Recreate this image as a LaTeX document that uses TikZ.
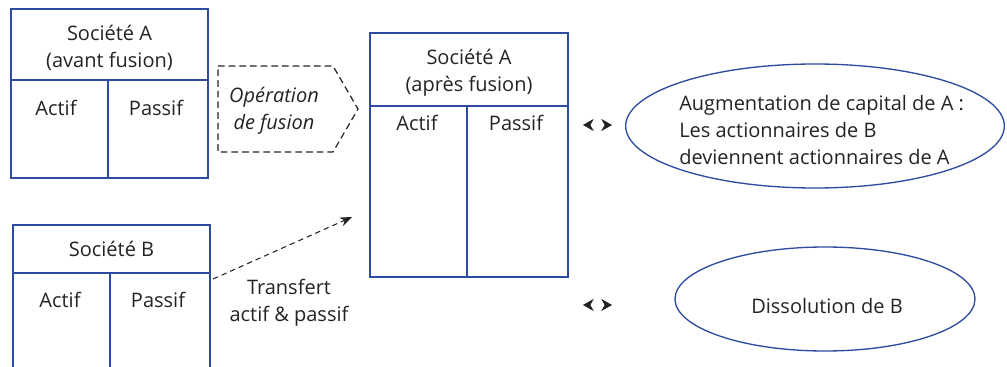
\documentclass[tikz,border=0pt]{standalone}
\usepackage{fontspec}
\setmainfont{Open Sans}
\usetikzlibrary{arrows.meta,shapes.geometric}
\definecolor{bleucadre}{RGB}{45,75,160}
\definecolor{gristexte}{RGB}{35,35,35}
\tikzset{
  cadre/.style={draw=bleucadre,line width=1pt},
  txt/.style={text=gristexte,font=\fontsize{15}{20.5}\selectfont,align=center,inner sep=0pt},
  pointes/.style={{Stealth[length=8pt,width=9pt,inset=2.5pt]}-{Stealth[length=8pt,width=9pt,inset=2.5pt]},dash pattern=on 0pt off 60pt,line width=0.4pt,gristexte},
}

\begin{document}
\begin{tikzpicture}[x=0.75pt,y=-0.75pt]
	\clip (0,0) rectangle (1007,367);
	\draw[cadre] (11,9) rectangle (208,178);
	\draw[cadre] (11,80) -- (208,80) (108,80) -- (108,178);
	\node[txt] (avantTitre) at (109.5,48) {Société A\\(avant fusion)};
	\node[txt] (avantActif) at (56,108) {Actif};
	\node[txt] (avantPassif) at (156,108) {Passif};
	\draw[dash pattern=on 5pt off 3pt,gristexte,line width=0.9pt] (218,66) -- (333,66) -- (358,109) -- (333,152) -- (218,152) -- cycle;
	\node[txt,font=\fontsize{15}{20.5}\selectfont\itshape] (operation) at (274,111) {Opération\\de fusion};
	\draw[cadre] (13,225) rectangle (210,380);
	\draw[cadre] (13,273) -- (210,273) (110,273) -- (110,380);
	\node[txt] (bTitre) at (111.5,249) {Société B};
	\node[txt] (bActif) at (60,300) {Actif};
	\node[txt] (bPassif) at (158,300) {Passif};
	\draw[cadre] (370,33) rectangle (568,277);
	\draw[cadre] (370,106) -- (568,106) (467,106) -- (467,277);
	\node[txt] (apresTitre) at (469,73) {Société A\\(après fusion)};
	\node[txt] (apresActif) at (417,123) {Actif};
	\node[txt] (apresPassif) at (516,123) {Passif};
	\coordinate (departB) at (213,279);
	\coordinate (arriveeA) at (352,217);
	\draw[dash pattern=on 4pt off 3pt,gristexte,line width=0.8pt,-{Stealth[length=9pt,width=7pt]}] (departB) -- (arriveeA);
	\node[txt] (transfert) at (289,303) {Transfert\\actif \& passif};
	\node[ellipse,cadre,minimum width=284pt,minimum height=93pt,inner sep=0pt] (augmentation) at (815,126) {};
	\node[txt,align=left,anchor=west] (augmTexte) at (679,130) {Augmentation de capital de A :\\Les actionnaires de B\\deviennent actionnaires de A};
	\node[ellipse,cadre,minimum width=225pt,minimum height=78pt,inner sep=0pt] (dissolution) at (825,299) {};
	\node[txt] (dissTexte) at (827,306) {Dissolution de B};
	\coordinate (fleche1G) at (583,125);
	\coordinate (fleche1D) at (612,125);
	\coordinate (fleche2G) at (583,305);
	\coordinate (fleche2D) at (612,305);
	\draw[pointes] (fleche1G) -- (fleche1D);
	\draw[pointes] (fleche2G) -- (fleche2D);
\end{tikzpicture}
\end{document}
